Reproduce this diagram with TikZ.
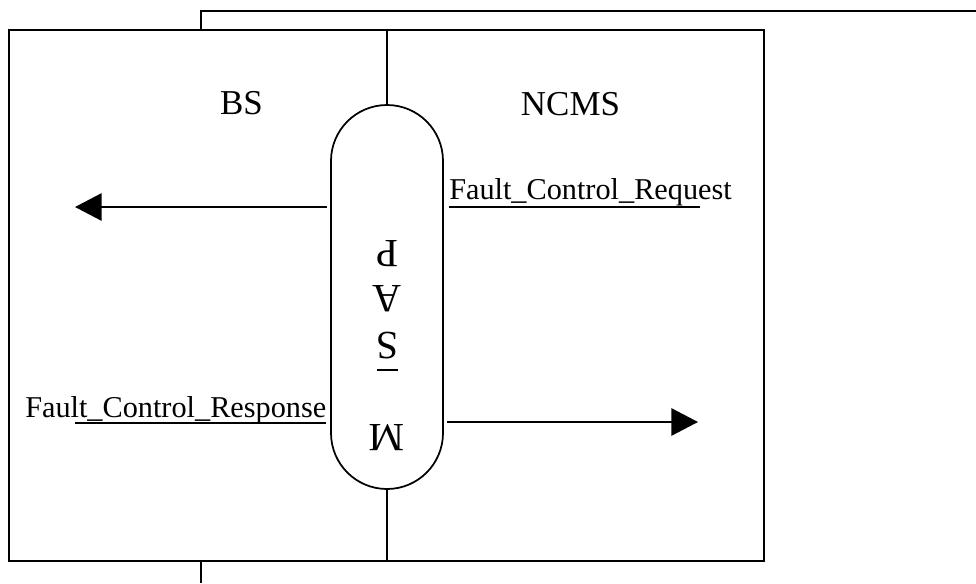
\documentclass[tikz,border=0pt]{standalone}
\usepackage{fontspec}
\setmainfont{Liberation Serif}
\usetikzlibrary{arrows.meta}
\begin{document}
\begin{tikzpicture}[x=0.75pt,y=-0.75pt,
  frame/.style={line width=1.5pt},
  conn/.style={line width=1.4pt},
  tipped/.style={-{Triangle[length=20pt,width=20.5pt]}},
  lbl/.style={inner sep=0pt,font=\fontsize{22.7pt}{26pt}\selectfont},
  side/.style={inner sep=0pt,font=\fontsize{26.2pt}{30pt}\selectfont},
  glyph/.style={inner sep=0pt,rotate=180,font=\fontsize{30pt}{34pt}\selectfont}]
  \useasboundingbox (0,0) rectangle (976,583);

  % outer frame and the lines leaving it
  \draw[frame] (9,30) rectangle (764,561);
  \draw[frame] (201,30) -- (201,11) -- (976,11);
  \draw[frame] (201,561) -- (201,583);

  % service access point capsule
  \node[draw, line width=1.3pt, inner sep=0pt, minimum width=84pt,
        minimum height=288pt, rounded corners=42pt] (msap) at (387,297) {};

  % divider between the two sides
  \coordinate (divtop) at (387,30);
  \coordinate (divbot) at (387,561);
  \draw[frame] (divtop) -- (msap.north);
  \draw[frame] (msap.south) -- (divbot);

  % side titles
  \node[side, anchor=base] (bs) at (241.5,114) {BS};
  \node[side, anchor=base] (ncms) at (570.5,115) {NCMS};

  % rotated letters inside the capsule
  \node[glyph] (gp) at (387,253.5) {P};
  \node[glyph] (ga) at (387,299) {A};
  \node[glyph] (gs) at (387,345.5) {S};
  \draw[line width=1.5pt] (377,370) -- (398,370);
  \node[glyph] (gm) at (387,438) {M};

  % request: from NCMS into the capsule, out to BS
  \node[lbl, anchor=base west] (req) at (449,199) {Fault\_Control\_Request};
  \coordinate (reqA) at (449,207);
  \coordinate (reqB) at (700,207);
  \draw[conn] (reqA) -- (reqB);
  \coordinate (lefttip) at (75,207);
  \draw[conn, tipped] ([xshift=-2.2pt]msap.west |- lefttip) -- (lefttip);

  % response: from BS into the capsule, out to NCMS
  \node[lbl, anchor=base west] (resp) at (25,417) {Fault\_Control\_Response};
  \coordinate (respA) at (75,423);
  \draw[conn] (respA) -- ([xshift=-3pt]msap.west |- respA);
  \coordinate (righttip) at (698,422);
  \coordinate (rightstart) at (447,422);
  \draw[conn, tipped] (rightstart) -- (righttip);
\end{tikzpicture}
\end{document}
